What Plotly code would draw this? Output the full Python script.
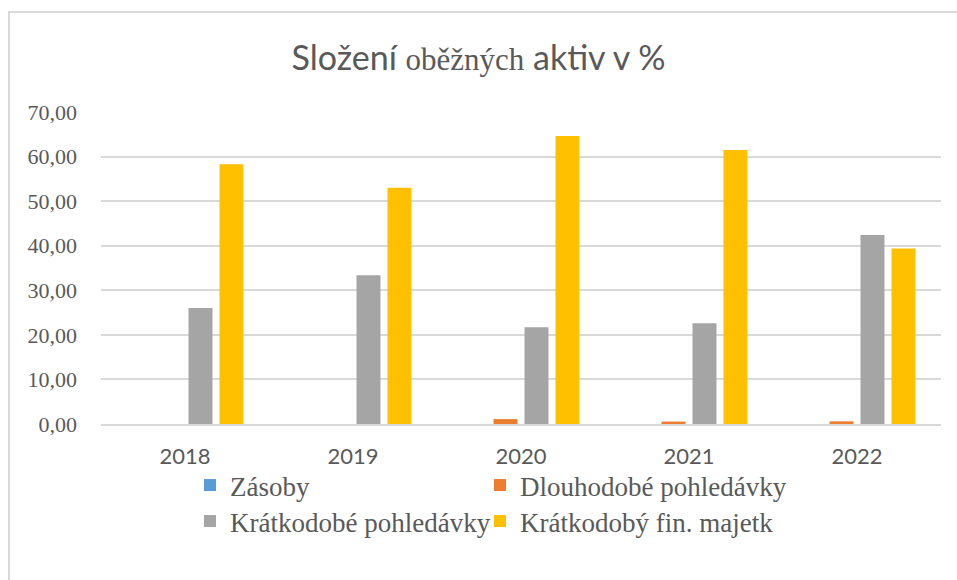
import plotly.graph_objects as go

years = ["2018", "2019", "2020", "2021", "2022"]
zasoby = [0.0, 0.0, 0.0, 0.0, 0.0]
dlouhodobe_pohl = [0.0, 0.0, 1.1, 0.55, 0.6]
kratkodobe_pohl = [26.0, 33.4, 21.7, 22.6, 42.4]
kratkodoby_fin = [58.3, 53.0, 64.6, 61.5, 39.4]

series_names = ["Zásoby", "Dlouhodobé pohledávky", "Krátkodobé pohledávky", "Krátkodobý fin. majetk"]
series_values = [zasoby, dlouhodobe_pohl, kratkodobe_pohl, kratkodoby_fin]
colors = ["#5B9BD5", "#ED7D31", "#A5A5A5", "#FFC000"]

y_ticks = [0, 10, 20, 30, 40, 50, 60, 70]
y_ticktext = ["0,00", "10,00", "20,00", "30,00", "40,00", "50,00", "60,00", "70,00"]

SANS = "Lato, 'Open Sans', sans-serif"
SERIF = "'Liberation Serif', 'Times New Roman', serif"
TXT = "#595959"

W, H = 957, 580
L, R, T, B = 101, 16, 112, 156
pw = W - L - R
ph = H - T - B

def px_x(p):
    return (p - L) / pw

def px_y(p):
    return (H - B - p) / ph

# legend placement: (legend id, left px, top px)
legend_slots = [("legend", 190, 461), ("legend2", 480, 461), ("legend3", 190, 497), ("legend4", 480, 497)]

fig = go.Figure()
for (lid, _, _), name, vals, col in zip(legend_slots, series_names, series_values, colors):
    fig.add_trace(go.Bar(x=years, y=vals, name=name, legend=lid,
                         marker=dict(color=col, line=dict(width=0))))

legend_layouts = {}
for lid, lx, ly in legend_slots:
    legend_layouts[lid] = dict(
        orientation="v", x=px_x(lx), xanchor="left", y=px_y(ly), yanchor="top",
        font=dict(family=SERIF, size=27, color=TXT), bgcolor="rgba(0,0,0,0)",
    )

fig.update_layout(
    width=W, height=H,
    margin=dict(l=L, r=R, t=T, b=B, autoexpand=False),
    paper_bgcolor="white", plot_bgcolor="white",
    barmode="group", bargap=0.262, bargroupgap=0.226,
    title=dict(
        text=("<span style='font-family:Lato'>Složení </span>"
              "<span style=\"font-family:'Liberation Serif'; font-size:31px\">oběžných</span>"
              "<span style='font-family:Lato'> aktiv v %</span>"),
        x=0.5, xanchor="center", y=1 - 58 / H, yanchor="middle",
        font=dict(family=SANS, size=34, color=TXT),
    ),
    xaxis=dict(
        showgrid=False, showline=True, linecolor="#D9D9D9", linewidth=1.5,
        tickfont=dict(family=SANS, size=22, color=TXT), ticks="",
        ticklabelstandoff=12, fixedrange=True,
    ),
    yaxis=dict(
        range=[0, 70], tickvals=y_ticks, ticktext=y_ticktext,
        showgrid=True, gridcolor="#D9D9D9", gridwidth=1.5,
        zeroline=False, showline=False,
        tickfont=dict(family=SERIF, size=22, color=TXT), ticks="",
        ticklabelstandoff=23, fixedrange=True,
    ),
    shapes=[dict(
        type="rect", xref="paper", yref="paper",
        x0=px_x(9), x1=px_x(975), y0=px_y(600), y1=px_y(12),
        line=dict(color="#D9D9D9", width=2), fillcolor="rgba(0,0,0,0)", layer="below",
    )],
    showlegend=True,
    **legend_layouts,
)

fig.write_html("out.html", config={"displayModeBar": False},
               post_script="document.body.style.margin='0';document.body.style.overflow='hidden';")
